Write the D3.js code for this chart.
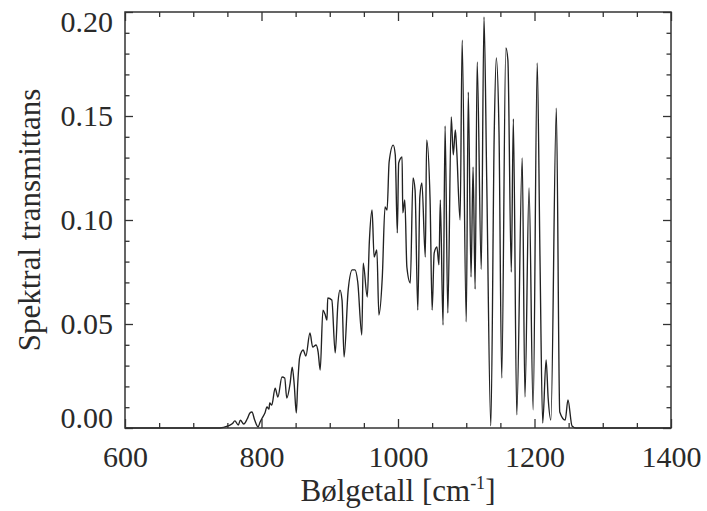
<!DOCTYPE html>
<html>
<head>
<meta charset="utf-8">
<script src="https://cdn.jsdelivr.net/npm/d3@7"></script>
<style>
  body { margin: 0; background: #fff; }
  text { font-family: "Liberation Serif", "DejaVu Serif", serif; fill: #2a2a2a; }
  .ramme { fill: none; stroke: #333; stroke-width: 1.5; }
  .akse path { display: none; }
  .akse line { stroke: #333; stroke-width: 1.3; }
  .spekter { fill: none; stroke: #222; stroke-width: 1.35; stroke-linejoin: round; }
</style>
</head>
<body>
<div id="okvir"></div>
<script>
// bølgetall [cm-1] og spektral transmittans, lest av figuren
const bolgetall = [600, 739, 751, 757, 761, 766, 769, 774, 779, 783, 786, 790, 795, 798, 801, 805, 808, 811, 812, 815,
  820, 824, 830, 834, 837, 842, 845, 848, 851, 853, 856, 861, 865, 871, 875, 880, 883, 886, 890, 893,
  896, 897, 903, 908, 912, 915, 918, 921, 927, 933, 937, 941, 947, 949, 955, 958, 962, 965, 969, 972,
  977, 981, 984, 987, 993, 996, 999, 1001, 1006, 1007, 1010, 1013, 1018, 1022, 1025, 1029, 1032, 1035, 1040, 1042,
  1047, 1050, 1053, 1057, 1060, 1062, 1066, 1069, 1073, 1078, 1081, 1084, 1086, 1091, 1094, 1100, 1103, 1107, 1110, 1113,
  1116, 1122, 1126, 1130, 1136, 1141, 1144, 1148, 1152, 1158, 1161, 1166, 1169, 1174, 1182, 1186, 1192, 1198, 1204, 1208,
  1212, 1217, 1220, 1224, 1232, 1237, 1245, 1249, 1255, 1261, 1400]

const transmittans = [0, 0, 0.001, 0.002, 0.0034, 0.0014, 0.0038, 0.0019, 0.0043, 0.0072, 0.0077, 0.0038, 0.0005, 0.0029, 0.0048, 0.0072, 0.0101, 0.0091, 0.012, 0.011,
  0.0192, 0.0149, 0.0245, 0.024, 0.0144, 0.0216, 0.0293, 0.0207, 0.0072, 0.0207, 0.0341, 0.0375, 0.0346, 0.0457, 0.0389, 0.0399, 0.0365, 0.0279, 0.0567, 0.0548,
  0.0519, 0.0625, 0.0615, 0.0361, 0.0601, 0.0663, 0.0615, 0.0341, 0.0663, 0.076, 0.076, 0.0702, 0.0447, 0.0793, 0.063, 0.0894, 0.1048, 0.0822, 0.0856, 0.0543,
  0.0726, 0.1063, 0.1048, 0.1279, 0.136, 0.1313, 0.0938, 0.1274, 0.1303, 0.1034, 0.1096, 0.0774, 0.0697, 0.1202, 0.1144, 0.0567, 0.1111, 0.1178, 0.0822, 0.1385,
  0.1096, 0.0567, 0.0841, 0.087, 0.0784, 0.1096, 0.0495, 0.1452, 0.0553, 0.1495, 0.1313, 0.1433, 0.1337, 0.1, 0.1865, 0.051, 0.1615, 0.0726, 0.1255, 0.0668,
  0.176, 0.0763, 0.1976, 0.1192, 0.001, 0.1418, 0.1779, 0.1423, 0.024, 0.1827, 0.1769, 0.075, 0.1486, 0.0063, 0.1298, 0.0149, 0.1154, 0.0087, 0.1755, 0.0827,
  0.0024, 0.0327, 0.0144, 0.0038, 0.1538, 0.0077, 0.0038, 0.0135, 0.001, 0, 0]

const xHovedmerker = [600, 800, 1000, 1200, 1400]
const yHovedmerker = [0, 0.05, 0.10, 0.15, 0.20]
const xTittel = "Bølgetall [cm"
const xTittelEksponent = "-1"
const yTittel = "Spektral transmittans"

let dimenzije = {
  sirina: 707,
  visina: 511,
  margine: { top: 12, right: 36, bottom: 83, left: 125 },
}
dimenzije.grSirina = dimenzije.sirina - dimenzije.margine.left - dimenzije.margine.right
dimenzije.grVisina = dimenzije.visina - dimenzije.margine.top - dimenzije.margine.bottom

const okvir = d3.select("#okvir")
  .append("svg")
  .attr("width", dimenzije.sirina)
  .attr("height", dimenzije.visina)

const granice = okvir.append("g")
  .attr("transform", `translate(${dimenzije.margine.left},${dimenzije.margine.top})`)

const xSkala = d3.scaleLinear()
  .domain([600, 1400])
  .range([0, dimenzije.grSirina])

const ySkala = d3.scaleLinear()
  .domain([0, 0.2])
  .range([dimenzije.grVisina, 0])

const xMinor = d3.range(600, 1401, 50).filter(v => !xHovedmerker.includes(v))
const yMinor = d3.range(0, 21).map(i => i / 100).filter((v, i) => i % 5 != 0)

// akser: merker peker innover
const bunnAkse = granice.append("g")
  .attr("class", "akse")
  .attr("transform", `translate(0,${dimenzije.grVisina})`)
  .call(d3.axisBottom(xSkala).tickValues(xHovedmerker).tickSize(-9).tickPadding(18).tickFormat(d3.format("d")))
bunnAkse.selectAll("text").style("font-size", "30px")

granice.append("g").attr("class", "akse")
  .attr("transform", `translate(0,${dimenzije.grVisina})`)
  .call(d3.axisBottom(xSkala).tickValues(xMinor).tickSize(-5).tickFormat(""))

granice.append("g").attr("class", "akse")
  .call(d3.axisTop(xSkala).tickValues(xHovedmerker).tickSize(-9).tickFormat(""))
granice.append("g").attr("class", "akse")
  .call(d3.axisTop(xSkala).tickValues(xMinor).tickSize(-5).tickFormat(""))

const venstreAkse = granice.append("g")
  .attr("class", "akse")
  .call(d3.axisLeft(ySkala).tickValues(yHovedmerker).tickSize(-8).tickPadding(12).tickFormat(d3.format(".2f")))
venstreAkse.selectAll("text")
  .style("font-size", "30px")
  .attr("y", d => d == 0 ? -10 : d == 0.2 ? 10 : 0)

granice.append("g").attr("class", "akse")
  .call(d3.axisLeft(ySkala).tickValues(yMinor).tickSize(-4.5).tickFormat(""))

granice.append("g").attr("class", "akse")
  .attr("transform", `translate(${dimenzije.grSirina},0)`)
  .call(d3.axisRight(ySkala).tickValues(yHovedmerker).tickSize(-8).tickFormat(""))
granice.append("g").attr("class", "akse")
  .attr("transform", `translate(${dimenzije.grSirina},0)`)
  .call(d3.axisRight(ySkala).tickValues(yMinor).tickSize(-4.5).tickFormat(""))

// spekteret
const linija = d3.line()
  .x((d, i) => xSkala(bolgetall[i]))
  .y(d => ySkala(d))
  .curve(d3.curveMonotoneX)

granice.append("path")
  .attr("class", "spekter")
  .attr("d", linija(transmittans))

granice.append("rect")
  .attr("class", "ramme")
  .attr("width", dimenzije.grSirina)
  .attr("height", dimenzije.grVisina)

// titler
const xNaslov = okvir.append("text")
  .attr("x", dimenzije.margine.left + dimenzije.grSirina / 2)
  .attr("y", 501)
  .attr("text-anchor", "middle")
  .style("font-size", "31px")
xNaslov.append("tspan").text(xTittel)
xNaslov.append("tspan").text(xTittelEksponent)
  .attr("dy", -12).style("font-size", "18px")
xNaslov.append("tspan").text("]")
  .attr("dy", 12)

okvir.append("text")
  .attr("transform", `translate(40,${dimenzije.margine.top + dimenzije.grVisina / 2}) rotate(-90)`)
  .attr("text-anchor", "middle")
  .style("font-size", "31px")
  .text(yTittel)
</script>
</body>
</html>
